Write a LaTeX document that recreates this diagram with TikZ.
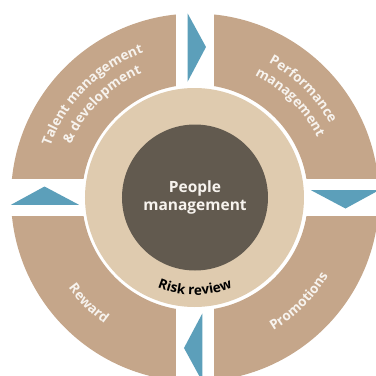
\documentclass[tikz,border=0pt]{standalone}
\usepackage{fontspec}
\setmainfont{Open Sans}
\usetikzlibrary{decorations.text}
\definecolor{tanc}{HTML}{C5A68A}
\definecolor{beigec}{HTML}{DFCBAF}
\definecolor{darkc}{HTML}{625A4F}
\definecolor{bluec}{HTML}{5C9FBA}
\definecolor{labc}{HTML}{F7F3EE}
\tikzset{
  ringlabel/.style={decorate, decoration={text along path, text align=center, text color=labc,
      text={|\fontsize{13.5}{15}\selectfont\bfseries|#1}}},
  risklabel/.style={decorate, decoration={text along path, text align=center, text color=black,
      text={|\fontsize{13.5}{15}\selectfont\bfseries|#1}}},
  arrowtri/.style={fill=bluec},
}
\begin{document}
\begin{tikzpicture}[x=1pt,y=1pt]
\useasboundingbox (-195,-178.5) rectangle (181,197.5);
% outer ring in four segments
\fill[tanc, even odd rule] (0,0) circle[radius=184] (0,0) circle[radius=113];
\fill[white] (-18.6,-200) rectangle (18.6,200);
\fill[white] (-200,-18.3) rectangle (200,18.3);
% arrows between the segments (clockwise)
\foreach \a in {0,-90,-180,-270}{
  \fill[arrowtri, rotate=\a] (-7.3,116) -- (-7.3,184) -- (11,150.5) -- cycle;
}
% inner rings
\fill[beigec] (-0.5,0) circle[radius=109.5];
\node[circle, fill=darkc, minimum size=146pt, inner sep=0pt, text=labc,
      font=\fontsize{15.5}{18.5}\selectfont\bfseries, align=center] (pm) at (0,0) {People\\management};
% curved labels
\path[ringlabel={Talent management}] (195:153.5) arc[start angle=195,end angle=75,radius=153.5];
\path[ringlabel={{\&} development}] (195:135) arc[start angle=195,end angle=75,radius=135];
\path[ringlabel={Performance}] (105:153.5) arc[start angle=105,end angle=-15,radius=153.5];
\path[ringlabel={management}] (105:136) arc[start angle=105,end angle=-15,radius=136];
\path[ringlabel={Reward}] (165:155.5) arc[start angle=165,end angle=285,radius=155.5];
\path[ringlabel={Promotions}] (255:154.5) arc[start angle=255,end angle=375,radius=154.5];
\path[risklabel={Risk review}] (210:97.5) arc[start angle=210,end angle=330,radius=97.5];
\end{tikzpicture}
\end{document}
